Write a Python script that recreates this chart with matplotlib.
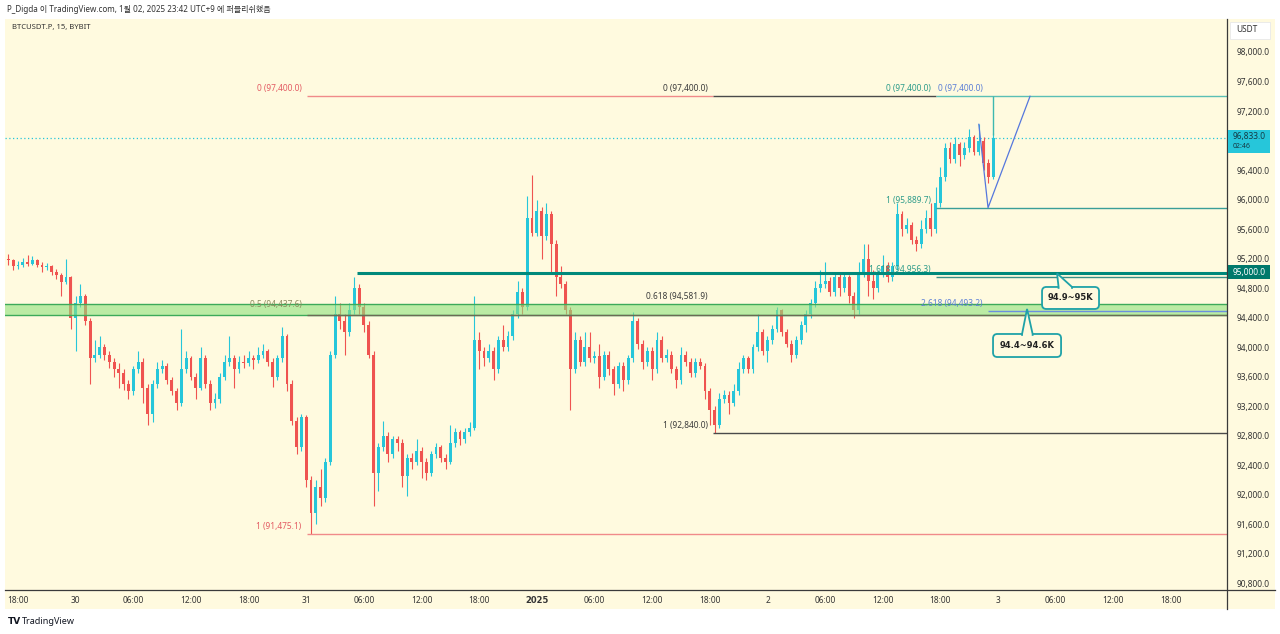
import numpy as np
import pandas as pd
import matplotlib
matplotlib.use("Agg")
import matplotlib.pyplot as plt
from matplotlib.patches import Rectangle, FancyBboxPatch, Polygon
from matplotlib.lines import Line2D

plt.rcParams["font.family"] = ["Noto Sans", "Noto Sans CJK KR", "DejaVu Sans"]

W, H = 1280, 634
BG = "#FFFADF"
UP = "#26C6DA"
DOWN = "#EF5350"

# 30 min bars
bar_start = "2024-12-29 17:00"
opens = [
    95200, 95180, 95100, 95120, 95160, 95130, 95180, 95120, 95080, 95100,
    95020, 94980, 94880, 94950, 94400, 94600, 94700, 94350, 93850, 93900,
    94000, 93900, 93800, 93700, 93650, 93500, 93400, 93700, 93800, 93450,
    93100, 93500, 93700, 93750, 93550, 93400, 93250, 93700, 93850, 93600,
    93450, 93850, 93500, 93250, 93300, 93600, 93800, 93850, 93700, 93800,
    93780, 93850, 93820, 93900, 93950, 93800, 93600, 93850, 94150, 93500,
    93000, 92650, 93050, 92200, 91750, 92100, 91950, 92450, 93900, 94450,
    94350, 94200, 94500, 94800, 94550, 94300, 93900, 92300, 92650, 92800,
    92550, 92750, 92700, 92250, 92500, 92450, 92600, 92450, 92300, 92550,
    92650, 92500, 92450, 92700, 92850, 92750, 92850, 92900, 94100, 93950,
    93850, 93950, 93700, 94100, 94000, 94150, 94450, 94750, 94550, 95750,
    95550, 95850, 95500, 95800, 95400, 94950, 94850, 94500, 93700, 94100,
    93800, 94000, 93850, 93880, 93600, 93900, 93700, 93500, 93750, 93550,
    93850, 94350, 94050, 93800, 93950, 93700, 94100, 93850, 93900, 93700,
    93550, 93900, 93800, 93650, 93800, 93750, 93400, 93150, 92950, 93300,
    93350, 93250, 93400, 93700, 93850, 93700, 94000, 94200, 93950, 94100,
    94250, 94500, 94200, 94050, 93900, 94100, 94300, 94450, 94600, 94800,
    94850, 94900, 94750, 94950, 94800, 94950, 94700, 94500, 95000, 95200,
    94900, 94800, 95000, 95100, 94950, 95100, 95800, 95600, 95650, 95450,
    95400, 95600, 95750, 95600, 95950, 96300, 96700, 96550, 96750, 96600,
    96700, 96850, 96650, 96800, 96500, 96300,
]
highs = [
    95260, 95200, 95170, 95210, 95250, 95230, 95200, 95150, 95140, 95120,
    95060, 95000, 95200, 94970, 94700, 94850, 94720, 94400, 94100, 94150,
    94050, 93950, 93850, 93780, 93700, 93560, 93750, 93950, 93850, 93500,
    93560, 93800, 93830, 93780, 93600, 93450, 94250, 93950, 93880, 93650,
    94000, 93900, 93550, 93380, 93650, 93900, 94150, 93900, 93880, 93900,
    93950, 93900, 94000, 94050, 93980, 93850, 93900, 94270, 94180, 93550,
    93050, 93100, 93080, 92250, 92200, 92350, 92500, 93950, 94700, 94600,
    94450, 94600, 94950, 94850, 94600, 94350, 93950, 92700, 93000, 92850,
    92800, 92800, 92750, 92550, 92570, 92750, 92650, 92500, 92600, 92700,
    92680, 92550, 92950, 92900, 92880, 92900, 92980, 94700, 94200, 94000,
    94050, 94000, 94150, 94300, 94220, 94500, 94900, 94800, 96050, 96330,
    96000, 95900, 95950, 95850, 95450, 95100, 94900, 94550, 94200, 94150,
    94200, 94200, 93950, 94050, 93950, 93950, 93750, 93800, 93800, 93900,
    94480, 94400, 94100, 94000, 94000, 94200, 94150, 93980, 93950, 93750,
    94000, 93950, 93850, 93850, 93850, 93780, 93450, 93200, 93380, 93420,
    93400, 93500, 93800, 93900, 93880, 94050, 94450, 94250, 94150, 94300,
    94550, 94520, 94250, 94100, 94150, 94350, 94500, 94650, 94900, 95050,
    95150, 94950, 95000, 95000, 95000, 94980, 94750, 95150, 95400, 95400,
    95050, 95050, 95250, 95150, 95150, 95950, 95850, 95750, 95700, 95500,
    95720, 95860, 95950, 96170, 96440, 96770, 96780, 96850, 96780, 96780,
    96950, 96880, 97020, 96850, 96550, 96900,
]
lows = [
    95120, 95050, 95060, 95090, 95100, 95110, 95080, 95020, 95040, 94980,
    94930, 94700, 94850, 94250, 93950, 94550, 94300, 93500, 93800, 93850,
    93820, 93720, 93600, 93450, 93420, 93300, 93350, 93650, 93240, 92950,
    92980, 93450, 93650, 93500, 93350, 93150, 93200, 93650, 93550, 93300,
    93420, 93450, 93150, 93180, 93250, 93550, 93750, 93450, 93650, 93720,
    93750, 93700, 93780, 93850, 93750, 93460, 93550, 93800, 93400, 92950,
    92550, 92600, 92100, 91475, 91600, 91850, 91900, 92400, 93850, 94250,
    93900, 94150, 94450, 94450, 94200, 93850, 91850, 92050, 92600, 92450,
    92500, 92600, 92100, 91980, 92350, 92400, 92230, 92200, 92250, 92500,
    92450, 92350, 92420, 92650, 92680, 92700, 92800, 92880, 93700, 93750,
    93800, 93550, 93650, 93950, 93950, 94100, 94400, 94450, 94500, 95500,
    95500, 95200, 95450, 95000, 94700, 94800, 94450, 93150, 93650, 93750,
    93750, 93800, 93780, 93450, 93550, 93620, 93350, 93450, 93400, 93500,
    93800, 93980, 93700, 93750, 93550, 93650, 93800, 93800, 93650, 93450,
    93500, 93750, 93600, 93600, 93700, 93300, 92950, 92840, 92900, 93250,
    93100, 93200, 93350, 93650, 93650, 93650, 93950, 93900, 93800, 94050,
    94200, 94150, 94000, 93800, 93850, 94050, 94200, 94400, 94550, 94750,
    94800, 94700, 94700, 94700, 94750, 94600, 94400, 94450, 94950, 94700,
    94650, 94750, 94950, 94880, 94900, 95050, 95500, 95550, 95400, 95300,
    95350, 95550, 95500, 95550, 95900, 96250, 96500, 96500, 96450, 96550,
    96650, 96600, 96600, 96400, 96230, 96280,
]
closes = [
    95180, 95100, 95120, 95160, 95130, 95180, 95120, 95080, 95100, 95020,
    94980, 94880, 94950, 94400, 94600, 94700, 94350, 93850, 93900, 94000,
    93900, 93800, 93700, 93650, 93500, 93400, 93700, 93800, 93450, 93100,
    93500, 93700, 93750, 93550, 93400, 93250, 93700, 93850, 93600, 93450,
    93850, 93500, 93250, 93300, 93600, 93800, 93850, 93700, 93800, 93780,
    93850, 93820, 93900, 93950, 93800, 93600, 93850, 94150, 93500, 93000,
    92650, 93050, 92200, 91750, 92100, 91950, 92450, 93900, 94450, 94350,
    94200, 94500, 94800, 94550, 94300, 93900, 92300, 92650, 92800, 92550,
    92750, 92700, 92250, 92500, 92450, 92600, 92450, 92300, 92550, 92650,
    92500, 92450, 92700, 92850, 92750, 92850, 92900, 94100, 93950, 93850,
    93950, 93700, 94100, 94000, 94150, 94450, 94750, 94550, 95750, 95550,
    95850, 95500, 95800, 95400, 94950, 94850, 94500, 93700, 94100, 93800,
    94000, 93850, 93880, 93600, 93900, 93700, 93500, 93750, 93550, 93850,
    94350, 94050, 93800, 93950, 93700, 94100, 93850, 93900, 93700, 93550,
    93900, 93800, 93650, 93800, 93750, 93400, 93150, 92950, 93300, 93350,
    93250, 93400, 93700, 93850, 93700, 94000, 94200, 93950, 94100, 94250,
    94500, 94200, 94050, 93900, 94100, 94300, 94450, 94600, 94800, 94850,
    94900, 94750, 94950, 94800, 94950, 94700, 94500, 95000, 95200, 94900,
    94800, 95000, 95100, 94950, 95100, 95800, 95600, 95650, 95450, 95400,
    95600, 95750, 95600, 95950, 96300, 96700, 96550, 96750, 96600, 96700,
    96850, 96650, 96800, 96500, 96300, 96833,
]

price_ticks = [90800, 91200, 91600, 92000, 92400, 92800, 93200, 93600, 94000,
               94400, 94800, 95200, 95600, 96000, 96400, 97200, 97600, 98000]
tick_hours = [18, 24, 30, 36, 42, 48, 54, 60, 66, 72, 78, 84, 90, 96, 102,
              108, 114, 120, 126, 132, 138]
tick_labels = ["18:00", "30", "06:00", "12:00", "18:00", "31", "06:00",
               "12:00", "18:00", "2025", "06:00", "12:00", "18:00", "2",
               "06:00", "12:00", "18:00", "3", "06:00", "12:00", "18:00"]

last_price = 96833.0
zone_low, zone_high = 94437.6, 94581.9
key_level = 95000.0


def fx(px):
    return px / W


def fy(py):
    return 1 - py / H


fig = plt.figure(figsize=(12.8, 6.34), dpi=100, facecolor="white")
fig.patches.append(Rectangle((fx(5), fy(609)), fx(1275) - fx(5), fy(19) - fy(609),
                             transform=fig.transFigure, facecolor=BG,
                             edgecolor="none", zorder=-5))
ax = fig.add_axes([fx(5), fy(590), fx(1227) - fx(5), fy(19) - fy(590)])
ax.set_facecolor(BG)
ax.set_xlim(16.647, 143.83)
ax.set_ylim(90710, 98447)
for s in ax.spines.values():
    s.set_visible(False)

# candles
t0 = pd.Timestamp("2024-12-29 00:00")
times = pd.date_range(bar_start, periods=len(closes), freq="30min")
x = ((times - t0) / pd.Timedelta(hours=1)).to_numpy()
o, h, l, c = map(np.array, (opens, highs, lows, closes))
cols = np.where(c >= o, UP, DOWN)
ax.vlines(x, l, h, colors=cols, linewidth=0.8, zorder=3)
ax.bar(x, np.maximum(np.abs(c - o), 15), bottom=np.minimum(o, c), width=0.3,
       color=cols, linewidth=0, zorder=4)

xmax = ax.get_xlim()[1]

# support zone
ax.axhspan(zone_low, zone_high, facecolor=(0.56, 0.886, 0.494, 0.6),
           edgecolor="none", zorder=5)
ax.axhline(zone_high, color="#3DAA5A", lw=1, zorder=6)
ax.axhline(zone_low, color="#3DAA5A", lw=1, zorder=6)

# fib levels
ax.hlines(97400, 48.08, 90.34, color="#F08A8A", lw=1, zorder=6)
ax.hlines(97400, 90.34, 113.55, color="#4a4a4a", lw=1, zorder=6)
ax.hlines(97400, 113.55, xmax, color="#5BBFB5", lw=1, zorder=6)
ax.hlines(91475.1, 48.08, xmax, color="#F08A8A", lw=1, zorder=6)
ax.hlines(zone_low, 48.08, xmax, color="#6b6b55", lw=1, zorder=6)
ax.hlines(92840.0, 90.34, xmax, color="#4a4a4a", lw=1, zorder=6)
ax.hlines(95889.7, 113.55, xmax, color="#3A9E98", lw=1, zorder=6)
ax.hlines(94956.3, 113.55, xmax, color="#3A8F88", lw=1, zorder=6)
ax.hlines(94493.2, 118.96, xmax, color="#6B8EE0", lw=1, zorder=6)
ax.hlines(key_level, 53.28, xmax, color="#00897B", lw=2.2, zorder=6)
ax.axhline(last_price, color="#26C6DA", lw=0.9, ls=(0, (1, 2)), zorder=2)

# trend based extension
ax.plot([118.0, 118.96, 123.33], [97020, 95889.7, 97400], color="#5577DD",
        lw=0.9, zorder=6)
ax.vlines(119.48, 96880, 97400, color="#3DB8B0", lw=1, zorder=6)


def fib_label(t, price, text, color):
    ax.annotate(text, (t, price), xytext=(-4, 2), textcoords="offset points",
                ha="right", va="bottom", fontsize=6, color=color, zorder=7)


fib_label(48.08, 97400, "0 (97,400.0)", "#E35B63")
fib_label(48.08, 91475.1, "1 (91,475.1)", "#E35B63")
fib_label(48.08, zone_low + 40, "0.5 (94,437.6)", "#8b8b5e")
fib_label(90.34, 97400, "0 (97,400.0)", "#3b3b3b")
fib_label(90.34, 94581.9, "0.618 (94,581.9)", "#3b3b3b")
fib_label(90.34, 92840.0, "1 (92,840.0)", "#3b3b3b")
fib_label(113.55, 97400, "0 (97,400.0)", "#2E9C8A")
fib_label(113.55, 95889.7, "1 (95,889.7)", "#2E9C8A")
fib_label(113.55, 94956.3, "1.618 (94,956.3)", "#2E9C8A")
fib_label(118.96, 97400, "0 (97,400.0)", "#5C7FD6")
fib_label(118.96, 94493.2, "2.618 (94,493.2)", "#5C7FD6")

# callouts
ASPECT = 9.608 / 0.0738


def callout(text, t1, t2, p_bot, p_top, tip, base):
    edge = "#1FA2A8"
    ax.add_patch(FancyBboxPatch((t1, p_bot), t2 - t1, p_top - p_bot,
                                boxstyle="round,pad=0,rounding_size=0.45",
                                mutation_aspect=ASPECT, facecolor=BG,
                                edgecolor=edge, lw=1.3, zorder=8))
    eps = 25
    ax.add_patch(Polygon([(base[0], p_top - eps), (base[0], p_top), tip,
                          (base[1], p_top), (base[1], p_top - eps)],
                         closed=False, facecolor=BG, edgecolor=edge, lw=1.3,
                         zorder=9))
    ax.text((t1 + t2) / 2, (p_bot + p_top) / 2, text, ha="center", va="center",
            fontsize=6, fontweight="bold", family="DejaVu Sans",
            color="#222222", zorder=10)


callout("94.9~95K", 124.58, 130.51, 94518, 94816, (126.14, 95000), (126.3, 127.7))
callout("94.4~94.6K", 119.48, 126.56, 93867, 94179, (123.02, 94518), (122.5, 123.6))

# axes
ax.yaxis.tick_right()
ax.set_yticks(price_ticks, [f"{p:,.1f}" for p in price_ticks])
ax.tick_params(axis="y", length=0, pad=7, labelsize=6, labelcolor="#333333")
ax.set_xticks(tick_hours, tick_labels)
ax.tick_params(axis="x", length=0, pad=4, labelsize=6, labelcolor="#333333")
year_label = ax.get_xticklabels()[9]
year_label.set_fontweight("bold")
year_label.set_family("DejaVu Sans")

fig.add_artist(Line2D([fx(5), fx(1275)], [fy(590), fy(590)], color="#3a3a3a", lw=0.9))
fig.add_artist(Line2D([fx(1227), fx(1227)], [fy(19), fy(609)], color="#3a3a3a", lw=0.9))

# right scale boxes
fig.patches.append(Rectangle((fx(1230), fy(39)), fx(40), fy(0) - fy(17),
                             transform=fig.transFigure, facecolor="white",
                             edgecolor="#e8e8e8", lw=0.6, zorder=3))
fig.text(fx(1236), fy(30), "USDT", fontsize=6, color="#333333", va="center")
fig.patches.append(Rectangle((fx(1228), fy(153)), fx(42), fy(0) - fy(23),
                             transform=fig.transFigure, facecolor=UP,
                             edgecolor="none", zorder=3))
fig.text(fx(1233), fy(137), f"{last_price:,.1f}", fontsize=6, color="#153a44",
         va="center", zorder=4)
fig.text(fx(1233), fy(147), "02:46", fontsize=5, color="#153a44", va="center",
         zorder=4)
fig.patches.append(Rectangle((fx(1228), fy(279)), fx(42), fy(0) - fy(14),
                             transform=fig.transFigure, facecolor="#00796B",
                             edgecolor="none", zorder=3))
fig.text(fx(1233), fy(272), f"{key_level:,.1f}", fontsize=6, color="white",
         va="center", zorder=4)

# header / footer
fig.text(fx(7), fy(9), "P_Digda 이 TradingView.com, 1월 02, 2025 23:42 UTC+9 에 퍼블리쉬했음",
         fontsize=5.8, color="#333333", va="center")
fig.text(fx(12), fy(28), "BTCUSDT.P, 15, BYBIT", fontsize=5.5, color="#333333",
         va="center")
fig.text(fx(8), fy(621), "TV", fontsize=6.5, fontweight="bold", family="DejaVu Sans",
         color="#131722", va="center")
fig.text(fx(22), fy(621), "TradingView", fontsize=6.5, color="#131722", va="center")

fig.savefig("out.png", dpi=100, facecolor="white")
